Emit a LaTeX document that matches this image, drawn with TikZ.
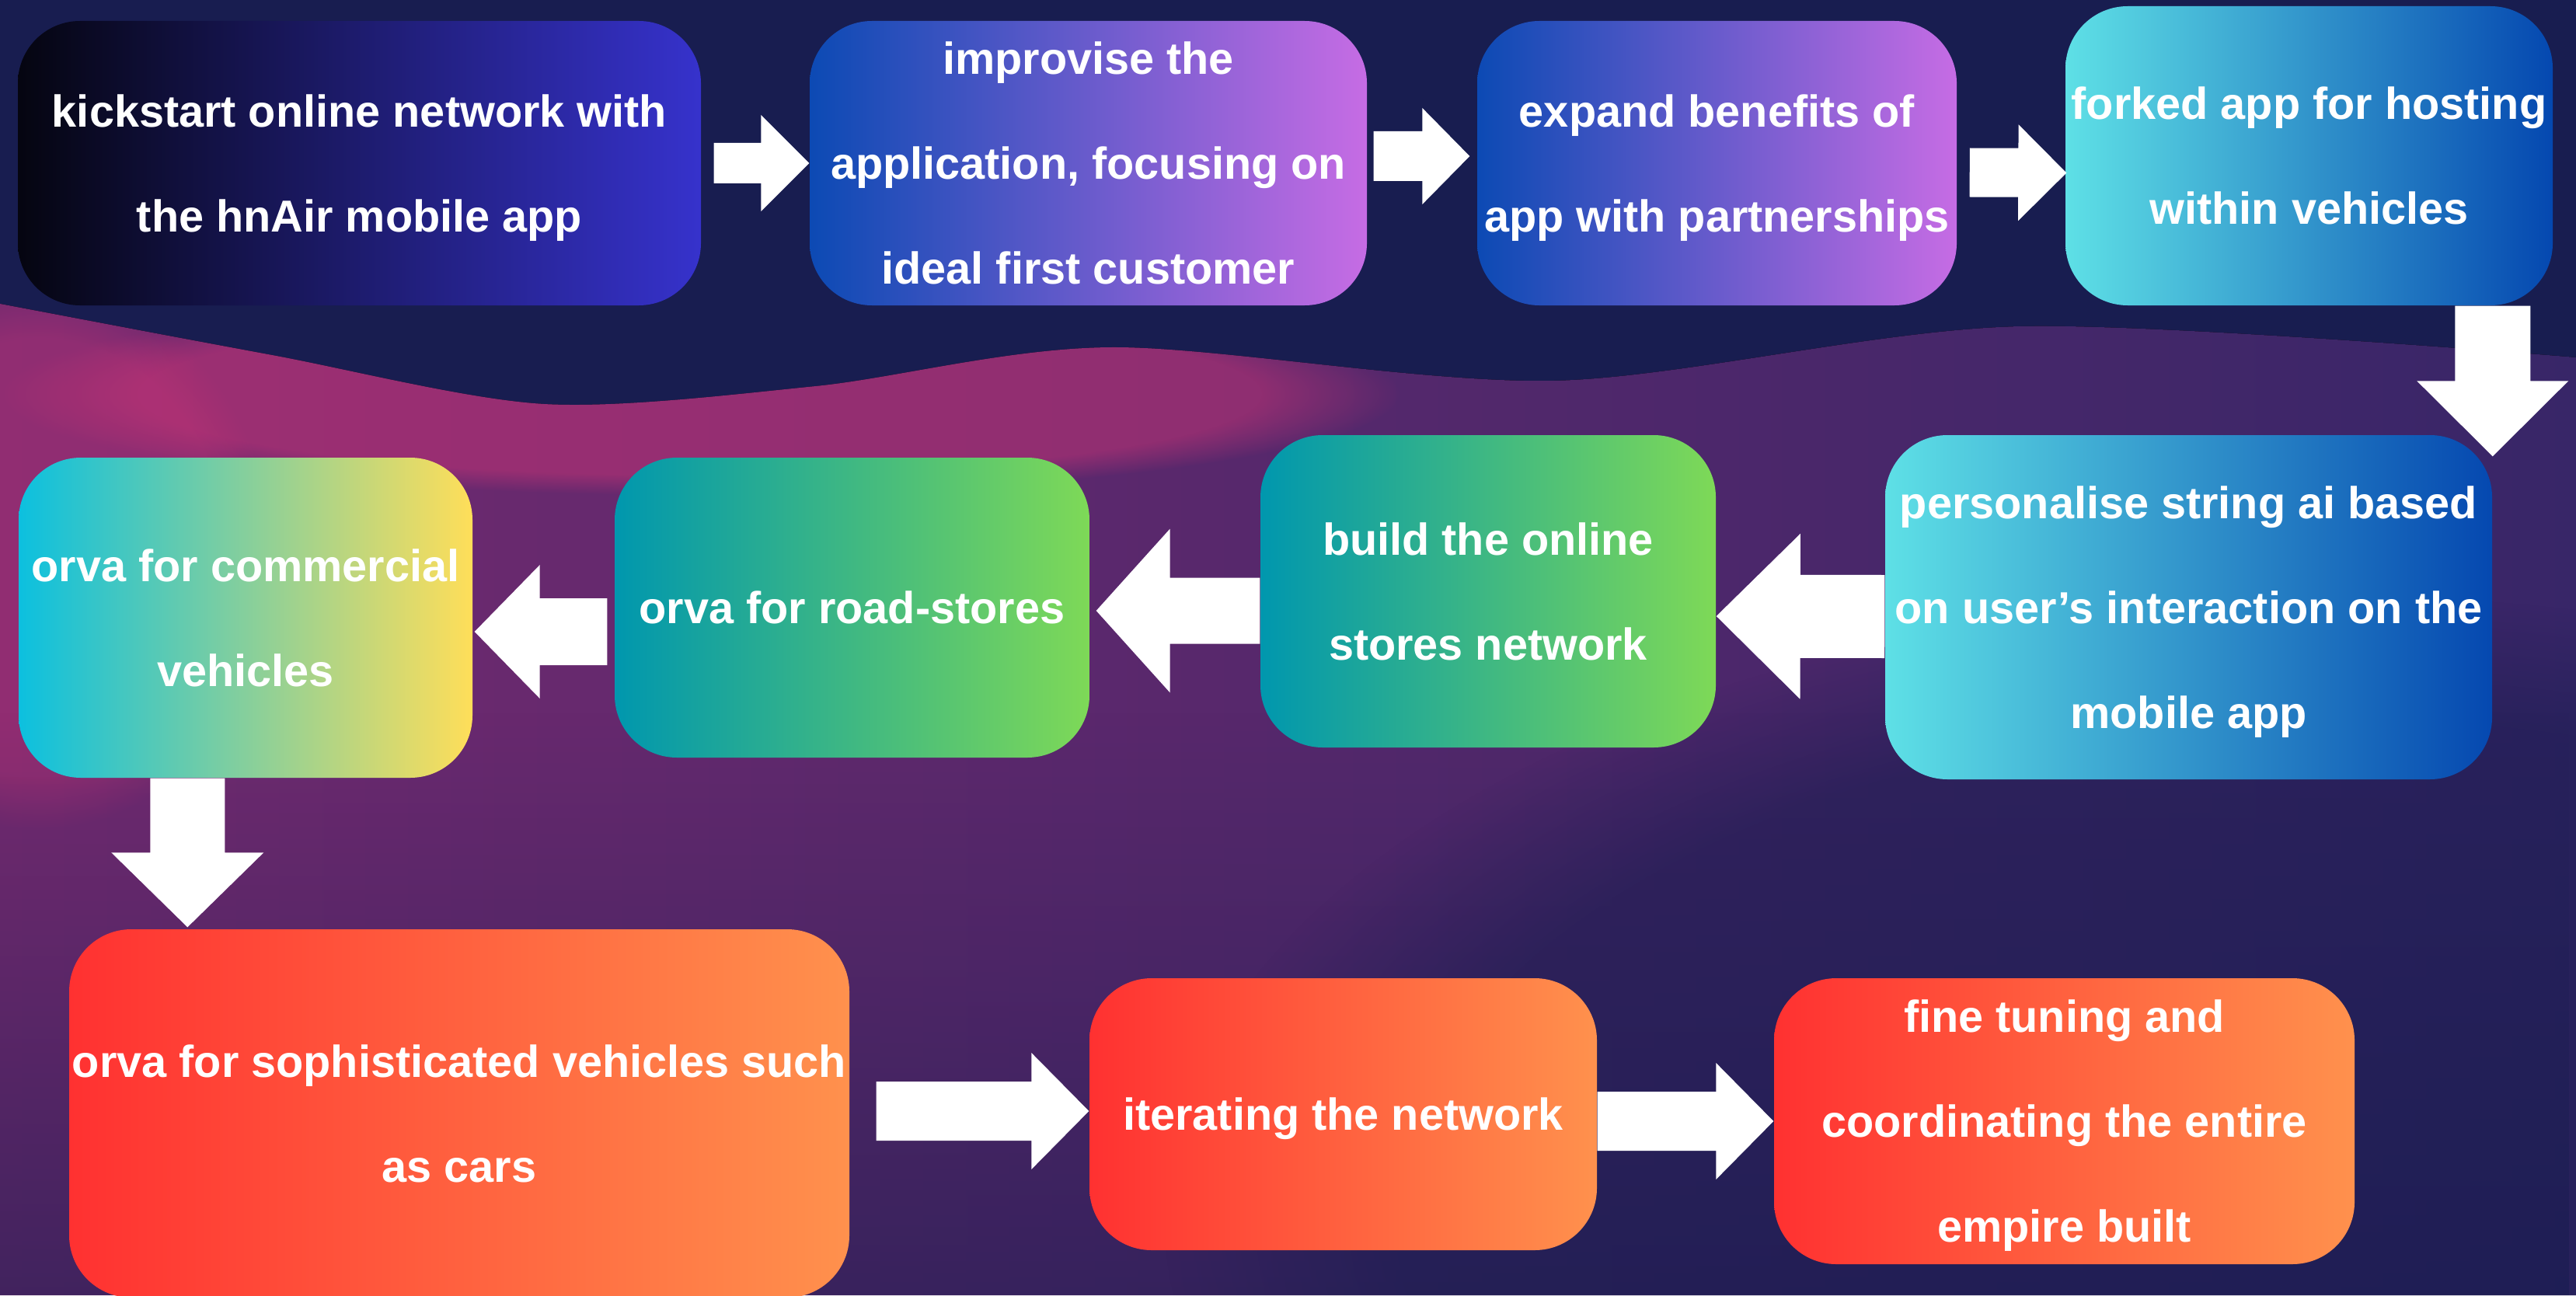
\documentclass[tikz,border=0pt]{standalone}
\usepackage{fontspec}
\setmainfont{Liberation Sans}
\usepackage{tikz}
\usetikzlibrary{calc, fadings}
\definecolor{bgnavy}{RGB}{24, 29, 80}
\definecolor{bgmagenta}{RGB}{116, 42, 112}
\definecolor{bgpurple}{RGB}{56, 38, 104}
\definecolor{bgpink}{RGB}{200, 52, 118}
\definecolor{darkstart}{RGB}{5, 5, 16}
\definecolor{darkend}{RGB}{54, 50, 204}
\definecolor{violetstart}{RGB}{12, 74, 180}
\definecolor{violetend}{RGB}{198, 108, 228}
\definecolor{aquastart}{RGB}{94, 224, 230}
\definecolor{aquaend}{RGB}{5, 72, 176}
\definecolor{greenstart}{RGB}{0, 151, 174}
\definecolor{greenend}{RGB}{126, 217, 87}
\definecolor{sunstart}{RGB}{12, 192, 223}
\definecolor{sunend}{RGB}{255, 222, 89}
\definecolor{firestart}{RGB}{255, 49, 49}
\definecolor{fireend}{RGB}{255, 145, 77}

% block arrow: tail, tip, shaft half width, head half width, head length
\newcommand{\flowarrow}[5]{%
  \coordinate (fa-base) at ($(#2)!#5!(#1)$);
  \fill[white] ($(#1)!#3!90:(#2)$) -- ($(fa-base)!#3!90:(#2)$) -- ($(fa-base)!#4!90:(#2)$) -- (#2)
    -- ($(fa-base)!#4!-90:(#2)$) -- ($(fa-base)!#3!-90:(#2)$) -- ($(#1)!#3!-90:(#2)$) -- cycle;
}

\begin{document}
\begin{tikzpicture}[
    stepbox/.style={rounded corners=0.8cm, inner sep=0pt, text=white, align=center, text depth=0pt,
      font=\fontsize{16.4}{38.4}\selectfont\bfseries}]
    \useasboundingbox (0,0) rectangle (33.15,16.67);

    % Background
    \fill[bgnavy] (0,0) rectangle (33.15,16.67);
    \begin{scope}
      \clip plot[smooth] coordinates {(0,12.76) (3.5,12.1) (7,11.47) (10.5,11.7) (14.3,12.2) (20,11.77) (26,12.47) (33.15,12.07)} -- (33.15,0) -- (0,0) -- cycle;
      \fill[left color=bgmagenta, right color=bgpurple] (0,0) rectangle (33.15,13);
      \fill[bgpink, opacity=0.5, path fading=circle with fuzzy edge 20 percent] (9,11.6) ellipse (9cm and 1.3cm);
      \fill[bgpink, opacity=0.35, path fading=circle with fuzzy edge 20 percent] (0.5,9.5) ellipse (3cm and 3.5cm);
      \fill[bgnavy, opacity=0.55, path fading=north] (0,0) rectangle (33.15,7.5);
      \fill[bgnavy, opacity=0.5, path fading=circle with fuzzy edge 20 percent] (30,1) ellipse (15cm and 8cm);
    \end{scope}

    % Row 1
    \node[stepbox, left color=darkstart, right color=darkend, minimum width=8.79cm, minimum height=3.66cm] (kick) at (4.625,14.57) {kickstart online network with\\the hnAir mobile app};
    \node[stepbox, left color=violetstart, right color=violetend, minimum width=7.17cm, minimum height=3.66cm] (improve) at (14.005,14.57) {improvise the\\application, focusing on\\ideal first customer};
    \node[stepbox, left color=violetstart, right color=violetend, minimum width=6.17cm, minimum height=3.66cm] (expand) at (22.095,14.57) {expand benefits of\\app with partnerships};
    \node[stepbox, left color=aquastart, right color=aquaend, minimum width=6.27cm, minimum height=3.85cm] (forked) at (29.715,14.665) {forked app for hosting\\within vehicles};

    % Row 2
    \node[stepbox, left color=aquastart, right color=aquaend, minimum width=7.81cm, minimum height=4.43cm] (personal) at (28.165,8.855) {personalise string ai based\\on user’s interaction on the\\mobile app};
    \node[stepbox, left color=greenstart, right color=greenend, minimum width=5.86cm, minimum height=4.02cm] (stores) at (19.15,9.06) {build the online\\stores network};
    \node[stepbox, left color=greenstart, right color=greenend, minimum width=6.11cm, minimum height=3.86cm] (road) at (10.965,8.85) {orva for road-stores};
    \node[stepbox, left color=sunstart, right color=sunend, minimum width=5.84cm, minimum height=4.12cm] (commercial) at (3.16,8.72) {orva for commercial\\vehicles};

    % Row 3
    \node[stepbox, left color=firestart, right color=fireend, minimum width=10.04cm, minimum height=4.74cm] (sophis) at (5.91,2.34) {orva for sophisticated vehicles such\\as cars};
    \node[stepbox, left color=firestart, right color=fireend, minimum width=6.53cm, minimum height=3.5cm] (iterate) at (17.285,2.33) {iterating the network};
    \node[stepbox, left color=firestart, right color=fireend, minimum width=7.47cm, minimum height=3.68cm] (finetune) at (26.565,2.24) {fine tuning and\\coordinating the entire\\empire built};

    % Arrows
    \coordinate (a1s) at ($(kick.east)+(0.16,0)$);
    \flowarrow{a1s}{improve.west}{0.26cm}{0.62cm}{0.62cm}
    \coordinate (a2s) at ($(improve.east)+(0.08,0.09)$);
    \coordinate (a2t) at ($(expand.west)+(-0.09,0.09)$);
    \flowarrow{a2s}{a2t}{0.32cm}{0.62cm}{0.61cm}
    \coordinate (a3s) at ($(expand.east)+(0.16,-0.12)$);
    \coordinate (a3t) at ($(forked.west)+(0.02,-0.22)$);
    \flowarrow{a3s}{a3t}{0.315cm}{0.62cm}{0.62cm}
    \coordinate (a4s) at ($(forked.south east)+(-0.78,0)$);
    \coordinate (a4t) at ($(personal.north east)+(0,-0.28)$);
    \flowarrow{a4s}{a4t}{0.485cm}{0.975cm}{0.97cm}
    \coordinate (a5s) at ($(personal.west)+(0,-0.12)$);
    \coordinate (a5t) at ($(stores.east)+(0,-0.32)$);
    \flowarrow{a5s}{a5t}{0.535cm}{1.065cm}{1.08cm}
    \coordinate (a6s) at ($(stores.west)+(0,-0.25)$);
    \coordinate (a6t) at ($(road.east)+(0.08,-0.04)$);
    \flowarrow{a6s}{a6t}{0.425cm}{1.055cm}{0.95cm}
    \coordinate (a7s) at ($(road.west)+(-0.09,-0.31)$);
    \coordinate (a7t) at ($(commercial.east)+(0.02,-0.18)$);
    \flowarrow{a7s}{a7t}{0.43cm}{0.86cm}{0.84cm}
    \coordinate (a8s) at ($(commercial.south west)+(2.18,0)$);
    \coordinate (a8t) at ($(sophis.north west)+(1.53,0.02)$);
    \flowarrow{a8s}{a8t}{0.48cm}{0.98cm}{0.96cm}
    \coordinate (a9s) at ($(sophis.east)+(0.34,0.03)$);
    \coordinate (a9t) at ($(iterate.west)+(0,0.04)$);
    \flowarrow{a9s}{a9t}{0.38cm}{0.75cm}{0.74cm}
    \coordinate (a10s) at ($(iterate.east)+(0,-0.09)$);
    \coordinate (a10t) at ($(finetune.west)+(0,0)$);
    \flowarrow{a10s}{a10t}{0.38cm}{0.75cm}{0.74cm}
\end{tikzpicture}
\end{document}
